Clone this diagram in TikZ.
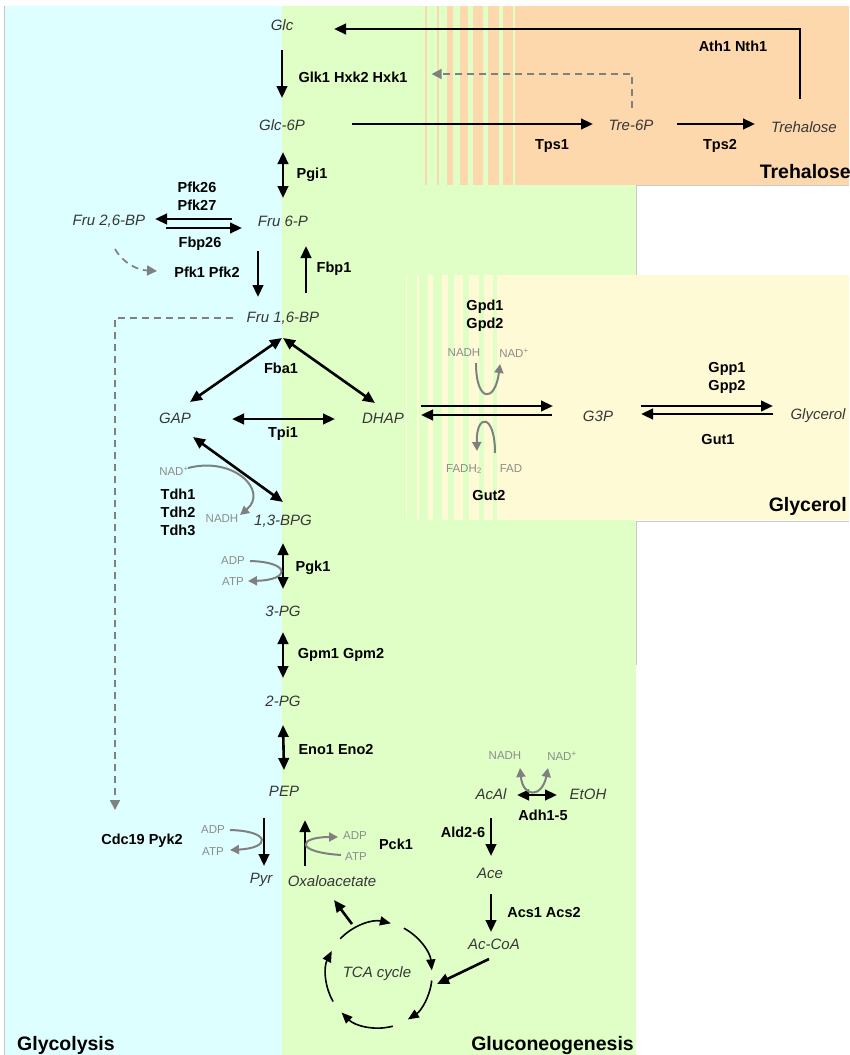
\documentclass[tikz,border=0pt]{standalone}
\usepackage{fontspec}
\setmainfont{Liberation Sans}
\usetikzlibrary{arrows.meta,calc}
\definecolor{cyanbg}{RGB}{221,255,255}
\definecolor{greenbg}{RGB}{223,255,198}
\definecolor{peachbg}{RGB}{253,216,172}
\definecolor{yellowbg}{RGB}{255,250,214}
\definecolor{metgray}{RGB}{55,55,55}
\definecolor{cofgray}{RGB}{140,140,140}
\definecolor{arrgray}{RGB}{128,128,128}
\definecolor{edgegray}{RGB}{200,200,200}
\tikzset{
  met/.style={font=\fontsize{15}{18}\selectfont\itshape, text=metgray, inner sep=0pt},
  enz/.style={font=\fontsize{14.5}{17}\selectfont\bfseries, inner sep=0pt},
  cof/.style={font=\fontsize{11.5}{14}\selectfont, text=cofgray, inner sep=0pt},
  region/.style={font=\fontsize{19.5}{22}\selectfont\bfseries, inner sep=0pt},
  tip/.tip={Triangle[length=12pt,width=10.5pt]},
  rx/.style={line width=2.6pt, -tip},
  rxx/.style={line width=2.6pt, tip-tip},
  cofarr/.style={draw=arrgray, line width=2pt, -{Triangle[length=9pt,width=9pt]}},
  dasharr/.style={draw=arrgray, line width=1.7pt, dash pattern=on 7pt off 5pt, -{Triangle[length=10pt,width=10pt]}},
  tcaarc/.style={line width=1.6pt, -{Triangle[length=11pt,width=9pt]}}
}
\begin{document}
\begin{tikzpicture}[x=1pt,y=-1pt]
\path[use as bounding box] (0,0) rectangle (849,1055);

% ---- compartments ----
\fill[cyanbg] (5,6) rectangle (282,1055);
\fill[greenbg] (282,6) rectangle (636,1055);
\draw[edgegray, line width=0.8pt] (4.5,6) -- (4.5,1055);
% trehalose band with striped transition
\fill[peachbg] (425,6) rectangle (849,185);
\foreach \a/\b in {427/437, 439/447, 453/460, 468/473, 483/488, 499/503, 513/515}
  \fill[greenbg] (\a,6) rectangle (\b,185);
\fill[white] (636,185) rectangle (849,275);
\draw[edgegray, line width=0.8pt] (849,185) -- (636,185) -- (636,275) -- (849,275);
% glycerol band with striped transition
\fill[yellowbg] (406,275) rectangle (849,520);
\foreach \a/\b in {407/417, 419/428, 433/442, 448/454, 463/469, 479/484, 493/497}
  \fill[greenbg] (\a,275) rectangle (\b,520);
\fill[white] (636,520) rectangle (849,1055);
\draw[edgegray, line width=0.8pt] (849,521) -- (636,521) -- (636,665);

% ---- metabolites ----
\node[met] (glc)   at (282,25)  {Glc};
\node[met] (g6p)   at (282,125) {Glc-6P};
\node[met] (t6p)   at (631,125) {Tre-6P};
\node[met] (tre)   at (804,127) {Trehalose};
\node[met] (f26)   at (109,221) {Fru 2,6-BP};
\node[met] (f6p)   at (283,221) {Fru 6-P};
\node[met] (f16)   at (283,318) {Fru 1,6-BP};
\node[met] (gap)   at (175,418) {GAP};
\node[met] (dhap)  at (383,418) {DHAP};
\node[met] (g3p)   at (598,416) {G3P};
\node[met] (glyc)  at (818,416) {Glycerol};
\node[met] (bpg)   at (283,521) {1,3-BPG};
\node[met] (pg3)   at (283,611) {3-PG};
\node[met] (pg2)   at (283,701) {2-PG};
\node[met] (pep)   at (284,791) {PEP};
\node[met] (pyr)   at (261,880) {Pyr};
\node[met] (oaa)   at (332,881) {Oxaloacetate};
\node[met] (acal)  at (491,794) {AcAl};
\node[met] (etoh)  at (588,794) {EtOH};
\node[met] (ace)   at (490,873) {Ace};
\node[met] (accoa) at (494,944) {Ac-CoA};
\node[met] (tca)   at (377,974) {TCA cycle};
\coordinate (tcac) at (379,975);

% ---- enzymes ----
\node[enz] (hxk)  at (353,77)  {Glk1 Hxk2 Hxk1};
\node[enz] (ath)  at (733,46)  {Ath1 Nth1};
\node[enz] (tps1) at (552,146) {Tps1};
\node[enz] (tps2) at (720,146) {Tps2};
\node[enz] (pgi)  at (312,175) {Pgi1};
\node[enz] (pfk26) at (197,187) {Pfk26};
\node[enz] (pfk27) at (197,205) {Pfk27};
\node[enz] (fbp26) at (200,244) {Fbp26};
\node[enz] (pfk)  at (207,272) {Pfk1 Pfk2};
\node[enz] (fbp)  at (334,269) {Fbp1};
\node[enz] (fba)  at (281,368) {Fba1};
\node[enz] (tpi)  at (283,434) {Tpi1};
\node[enz] (gpd1) at (485,307) {Gpd1};
\node[enz] (gpd2) at (485,325) {Gpd2};
\node[enz] (gut2) at (489,496) {Gut2};
\node[enz] (gpp1) at (727,369) {Gpp1};
\node[enz] (gpp2) at (727,387) {Gpp2};
\node[enz] (gut1) at (718,440) {Gut1};
\node[enz] (tdh1) at (178,494) {Tdh1};
\node[enz] (tdh2) at (178,512) {Tdh2};
\node[enz] (tdh3) at (178,530) {Tdh3};
\node[enz] (pgk)  at (313,568) {Pgk1};
\node[enz] (gpm)  at (341,655) {Gpm1 Gpm2};
\node[enz] (eno)  at (336,749) {Eno1 Eno2};
\node[enz] (pyk)  at (142,841) {Cdc19 Pyk2};
\node[enz] (pck)  at (396,844) {Pck1};
\node[enz] (adh)  at (543,815) {Adh1-5};
\node[enz] (ald)  at (463,832) {Ald2-6};
\node[enz] (acs)  at (544,912) {Acs1 Acs2};

% ---- cofactors ----
\node[cof] (gnadh) at (464,353) {NADH};
\node[cof] (gnad)  at (514,353) {NAD\textsuperscript{+}};
\node[cof] (gfadh) at (464,469) {FADH\textsubscript{2}};
\node[cof] (gfad)  at (511,469) {FAD};
\node[cof] (tnad)  at (174,471) {NAD\textsuperscript{+}};
\node[cof] (tnadh) at (222,519) {NADH};
\node[cof] (kadp)  at (233,561) {ADP};
\node[cof] (katp)  at (233,582) {ATP};
\node[cof] (yadp)  at (213,830) {ADP};
\node[cof] (yatp)  at (213,852) {ATP};
\node[cof] (cadp)  at (355,836) {ADP};
\node[cof] (catp)  at (356,857) {ATP};
\node[cof] (anadh) at (505,756) {NADH};
\node[cof] (anad)  at (562,756) {NAD\textsuperscript{+}};

% ---- region titles ----
\node[region, anchor=east] (rtre) at (851,172) {Trehalose};
\node[region, anchor=east] (rgly) at (847,506) {Glycerol};
\node[region, anchor=west] (rglc) at (17,1045) {Glycolysis};
\node[region, anchor=east] (rgng) at (634,1045) {Gluconeogenesis};

% ---- trehalose branch ----
\draw[rx] ($(tre)+(-4,-28)$) |- ($(glc)+(52,4)$);
\draw[rx] ($(glc)+(0,25)$) -- ($(g6p)+(0,-27)$);
\draw[rx] ($(g6p)+(70,-1)$) -- ++(241,0);
\draw[rx] ($(t6p)+(46,-1)$) -- ++(78,0);
\draw[dasharr] ($(t6p)+(1,-17)$) |- ($(hxk.east)+(24,-3)$);

% ---- upper glycolysis ----
\draw[rxx] ($(g6p)+(1,27)$) -- ($(f6p)+(0,-23)$);
\draw[rx] ($(f6p)+(-51,-2)$) -- ($(f26)+(46,-2)$);
\draw[rx] ($(f26)+(57,7)$) -- ($(f6p)+(-41,7)$);
\draw[dasharr] ($(f26)+(6,28)$) .. controls ($(f26)+(14,42)$) and ($(f26)+(28,49)$) .. ($(pfk)+(-50,-1)$);
\draw[rx] ($(f6p)+(-25,30)$) -- ($(f16)+(-25,-21)$);
\draw[rx] ($(f16)+(23,-25)$) -- ($(f6p)+(23,25)$);
\draw[dasharr] ($(f16)+(-50,0)$) -| ($(pyk)+(-27,-31)$);

% ---- aldolase, triose phosphates ----
\draw[rxx] ($(f16)+(-1,20)$) -- ($(gap)+(15,-16)$);
\draw[rxx] ($(f16)+(0,20)$) -- ($(dhap)+(-8,-15)$);
\draw[rxx] ($(gap)+(57,1)$) -- ($(dhap)+(-48,1)$);

% ---- glycerol branch ----
\draw[rx] ($(dhap)+(38,-12)$) -- ++(132,0);
\draw[rx] ($(g3p)+(-46,-1)$) -- ++(-131,0);
\draw[rx] ($(g3p)+(43,-10)$) -- ++(132,0);
\draw[rx] ($(glyc)+(-45,-2)$) -- ++(-132,0);
\draw[cofarr] ($(gnadh)+(12,10)$) .. controls ($(gnadh)+(12,50)$) and ($(gnadh)+(31,50)$) .. ($(gnad.west)+(1,11)$);
\draw[cofarr] ($(gfad)+(-16,-16)$) .. controls ($(gfad)+(-16,-56)$) and ($(gfad)+(-35,-56)$) .. ($(gfadh)+(13,-18)$);

% ---- lower glycolysis ----
\draw[rxx] ($(gap)+(18,19)$) -- ($(bpg)+(0,-19)$);
\draw[cofarr] ($(tnad)+(14,-3)$) .. controls ($(tnad)+(60,-15)$) and ($(tnad)+(95,20)$) .. ($(tnadh)+(18,-4)$);
\draw[rxx] ($(bpg)+(0,22)$) -- ($(pg3)+(0,-22)$);
\draw[cofarr] ($(kadp)+(17,0)$) .. controls ($(kadp)+(58,1)$) and ($(kadp)+(58,19)$) .. ($(katp)+(15,-1)$);
\draw[rxx] ($(pg3)+(0,21)$) -- ($(pg2)+(0,-23)$);
\draw[rxx] ($(pg2)+(0,24)$) -- ($(pep)+(0,-21)$);
\draw[rx] ($(pep)+(-20,27)$) -- ($(pyr)+(3,-14)$);
\draw[cofarr] ($(yadp)+(17,0)$) .. controls ($(yadp)+(58,1)$) and ($(yadp)+(58,18)$) .. ($(yatp)+(17,-2)$);
\draw[rx] ($(oaa)+(-27,-15)$) -- ($(pep)+(21,29)$);
\draw[cofarr] ($(catp)+(-15,-2)$) .. controls ($(catp)+(-62,-5)$) and ($(catp)+(-58,-20)$) .. ($(cadp)+(-17,1)$);

% ---- ethanol, acetate, TCA ----
\draw[rxx] ($(acal)+(26,1)$) -- ($(etoh)+(-31,1)$);
\draw[cofarr, {Triangle[length=9pt,width=9pt]}-{Triangle[length=9pt,width=9pt]}]
  ($(anadh)+(15,12)$) .. controls ($(anadh)+(18,42)$) and ($(anad)+(-20,42)$) .. ($(anad)+(-14,12)$);
\draw[rx] ($(acal)+(0,24)$) -- ($(ace)+(1,-17)$);
\draw[rx] ($(ace)+(1,21)$) -- ($(accoa)+(-3,-12)$);
\draw[rx] ($(accoa)+(-5,15)$) -- ($(tcac)+(58,9)$);
\draw[rx] ($(tcac)+(-27,-51)$) -- ($(oaa)+(2,19)$);

\draw[tcaarc] ($(tcac)+(223:53)$) arc[start angle=223, end angle=283, radius=53];
\draw[tcaarc] ($(tcac)+(298:53)$) arc[start angle=298, end angle=355, radius=53];
\draw[tcaarc] ($(tcac)+(6:53)$)   arc[start angle=6,   end angle=57,  radius=53];
\draw[tcaarc] ($(tcac)+(75:53)$)  arc[start angle=75,  end angle=135, radius=53];
\draw[tcaarc] ($(tcac)+(150:53)$) arc[start angle=150, end angle=207, radius=53];
\end{tikzpicture}
\end{document}
